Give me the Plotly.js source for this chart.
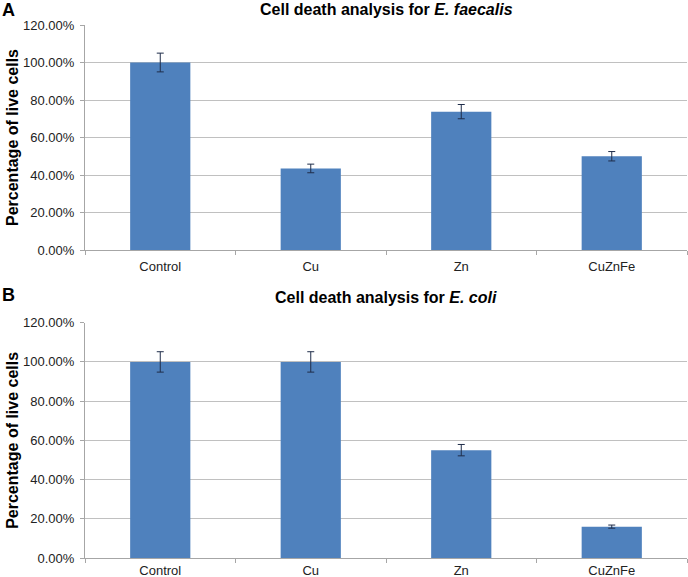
<!DOCTYPE html>
<html>
<head>
<meta charset="utf-8">
<script src="https://cdn.plot.ly/plotly-3.0.1.min.js"></script>
<style>
  html, body { margin: 0; padding: 0; background: #ffffff; }
  #chart { width: 688px; height: 577px; }
</style>
</head>
<body>
<div id="chart"></div>
<script>
// Data
const categories = ["Control", "Cu", "Zn", "CuZnFe"];
const faecalisValues = [100, 43.5, 73.8, 50];
const faecalisErrors = [5, 2.3, 3.8, 2.5];
const coliValues = [100, 100, 55, 16];
const coliErrors = [5.2, 5.2, 2.9, 0.8];
const yTickValues = [0, 20, 40, 60, 80, 100, 120];
const yTickLabels = ["0.00%", "20.00%", "40.00%", "60.00%", "80.00%", "100.00%", "120.00%"];
const titleA = "Cell death analysis for <i>E. faecalis</i>";
const titleB = "Cell death analysis for <i>E. coli</i>";
const yTitle = "Percentage of live cells";

const W = 688, H = 577;
const barColor = "#4F81BD";
const errColor = "#1F2D4A";
const axisColor = "#A6A6A6";
const gridColor = "#C0C0C0";
const font = "'Liberation Sans', Arial, sans-serif";

const xDom = [85 / W, 687 / W];
const yDomA = [1 - 250 / H, 1 - 25 / H];
const yDomB = [1 - 558 / H, 1 - 322.7 / H];

function bar(values, errors, xa, ya) {
  return {
    type: "bar",
    x: categories,
    y: values,
    xaxis: xa,
    yaxis: ya,
    marker: { color: barColor, line: { width: 0 } },
    error_y: { type: "data", array: errors, visible: true, color: errColor, thickness: 1, width: 3.5 },
    hoverinfo: "none"
  };
}

function xAxis(anchor, domain, standoff) {
  return {
    type: "category",
    domain: domain,
    anchor: anchor,
    showgrid: false,
    showline: true,
    linecolor: axisColor,
    linewidth: 1,
    ticks: "outside",
    tickson: "boundaries",
    ticklen: 4,
    tickcolor: axisColor,
    ticklabelstandoff: standoff,
    tickfont: { family: font, size: 13, color: "#222" },
    fixedrange: true
  };
}

function yAxis(anchor, domain) {
  return {
    domain: domain,
    anchor: anchor,
    range: [0, 120],
    tickmode: "array",
    tickvals: yTickValues,
    ticktext: yTickLabels,
    showgrid: true,
    gridcolor: gridColor,
    gridwidth: 1,
    zeroline: false,
    showline: true,
    linecolor: axisColor,
    linewidth: 1,
    ticks: "outside",
    ticklen: 4,
    tickcolor: axisColor,
    ticklabelstandoff: 3,
    tickfont: { family: font, size: 13, color: "#222" },
    title: { text: "<b>" + yTitle + "</b>", font: { family: font, size: 16, color: "#000" } },
    automargin: false,
    fixedrange: true
  };
}

const data = [
  bar(faecalisValues, faecalisErrors, "x", "y"),
  bar(coliValues, coliErrors, "x2", "y2")
];

const layout = {
  width: W,
  height: H,
  margin: { l: 0, r: 0, t: 0, b: 0 },
  paper_bgcolor: "#ffffff",
  plot_bgcolor: "#ffffff",
  showlegend: false,
  bargap: 0.6,
  font: { family: font, color: "#000" },
  xaxis: xAxis("y", xDom, 4),
  yaxis: yAxis("x", yDomA),
  xaxis2: xAxis("y2", xDom, 0),
  yaxis2: yAxis("x2", yDomB),
  annotations: [
    { text: "<b>" + titleA + "</b>", xref: "paper", yref: "paper", x: (xDom[0] + xDom[1]) / 2, y: 1 - 10 / H, xanchor: "center", yanchor: "middle", showarrow: false, font: { family: font, size: 16, color: "#000" } },
    { text: "<b>" + titleB + "</b>", xref: "paper", yref: "paper", x: (xDom[0] + xDom[1]) / 2, y: 1 - 297 / H, xanchor: "center", yanchor: "middle", showarrow: false, font: { family: font, size: 16, color: "#000" } },
    { text: "<b>A</b>", xref: "paper", yref: "paper", x: 0, y: 1 - 10 / H, xanchor: "left", yanchor: "middle", showarrow: false, font: { family: font, size: 18, color: "#000" } },
    { text: "<b>B</b>", xref: "paper", yref: "paper", x: 0, y: 1 - 295 / H, xanchor: "left", yanchor: "middle", showarrow: false, font: { family: font, size: 18, color: "#000" } }
  ]
};

Plotly.newPlot("chart", data, layout, { staticPlot: true, displayModeBar: false });
</script>
</body>
</html>
